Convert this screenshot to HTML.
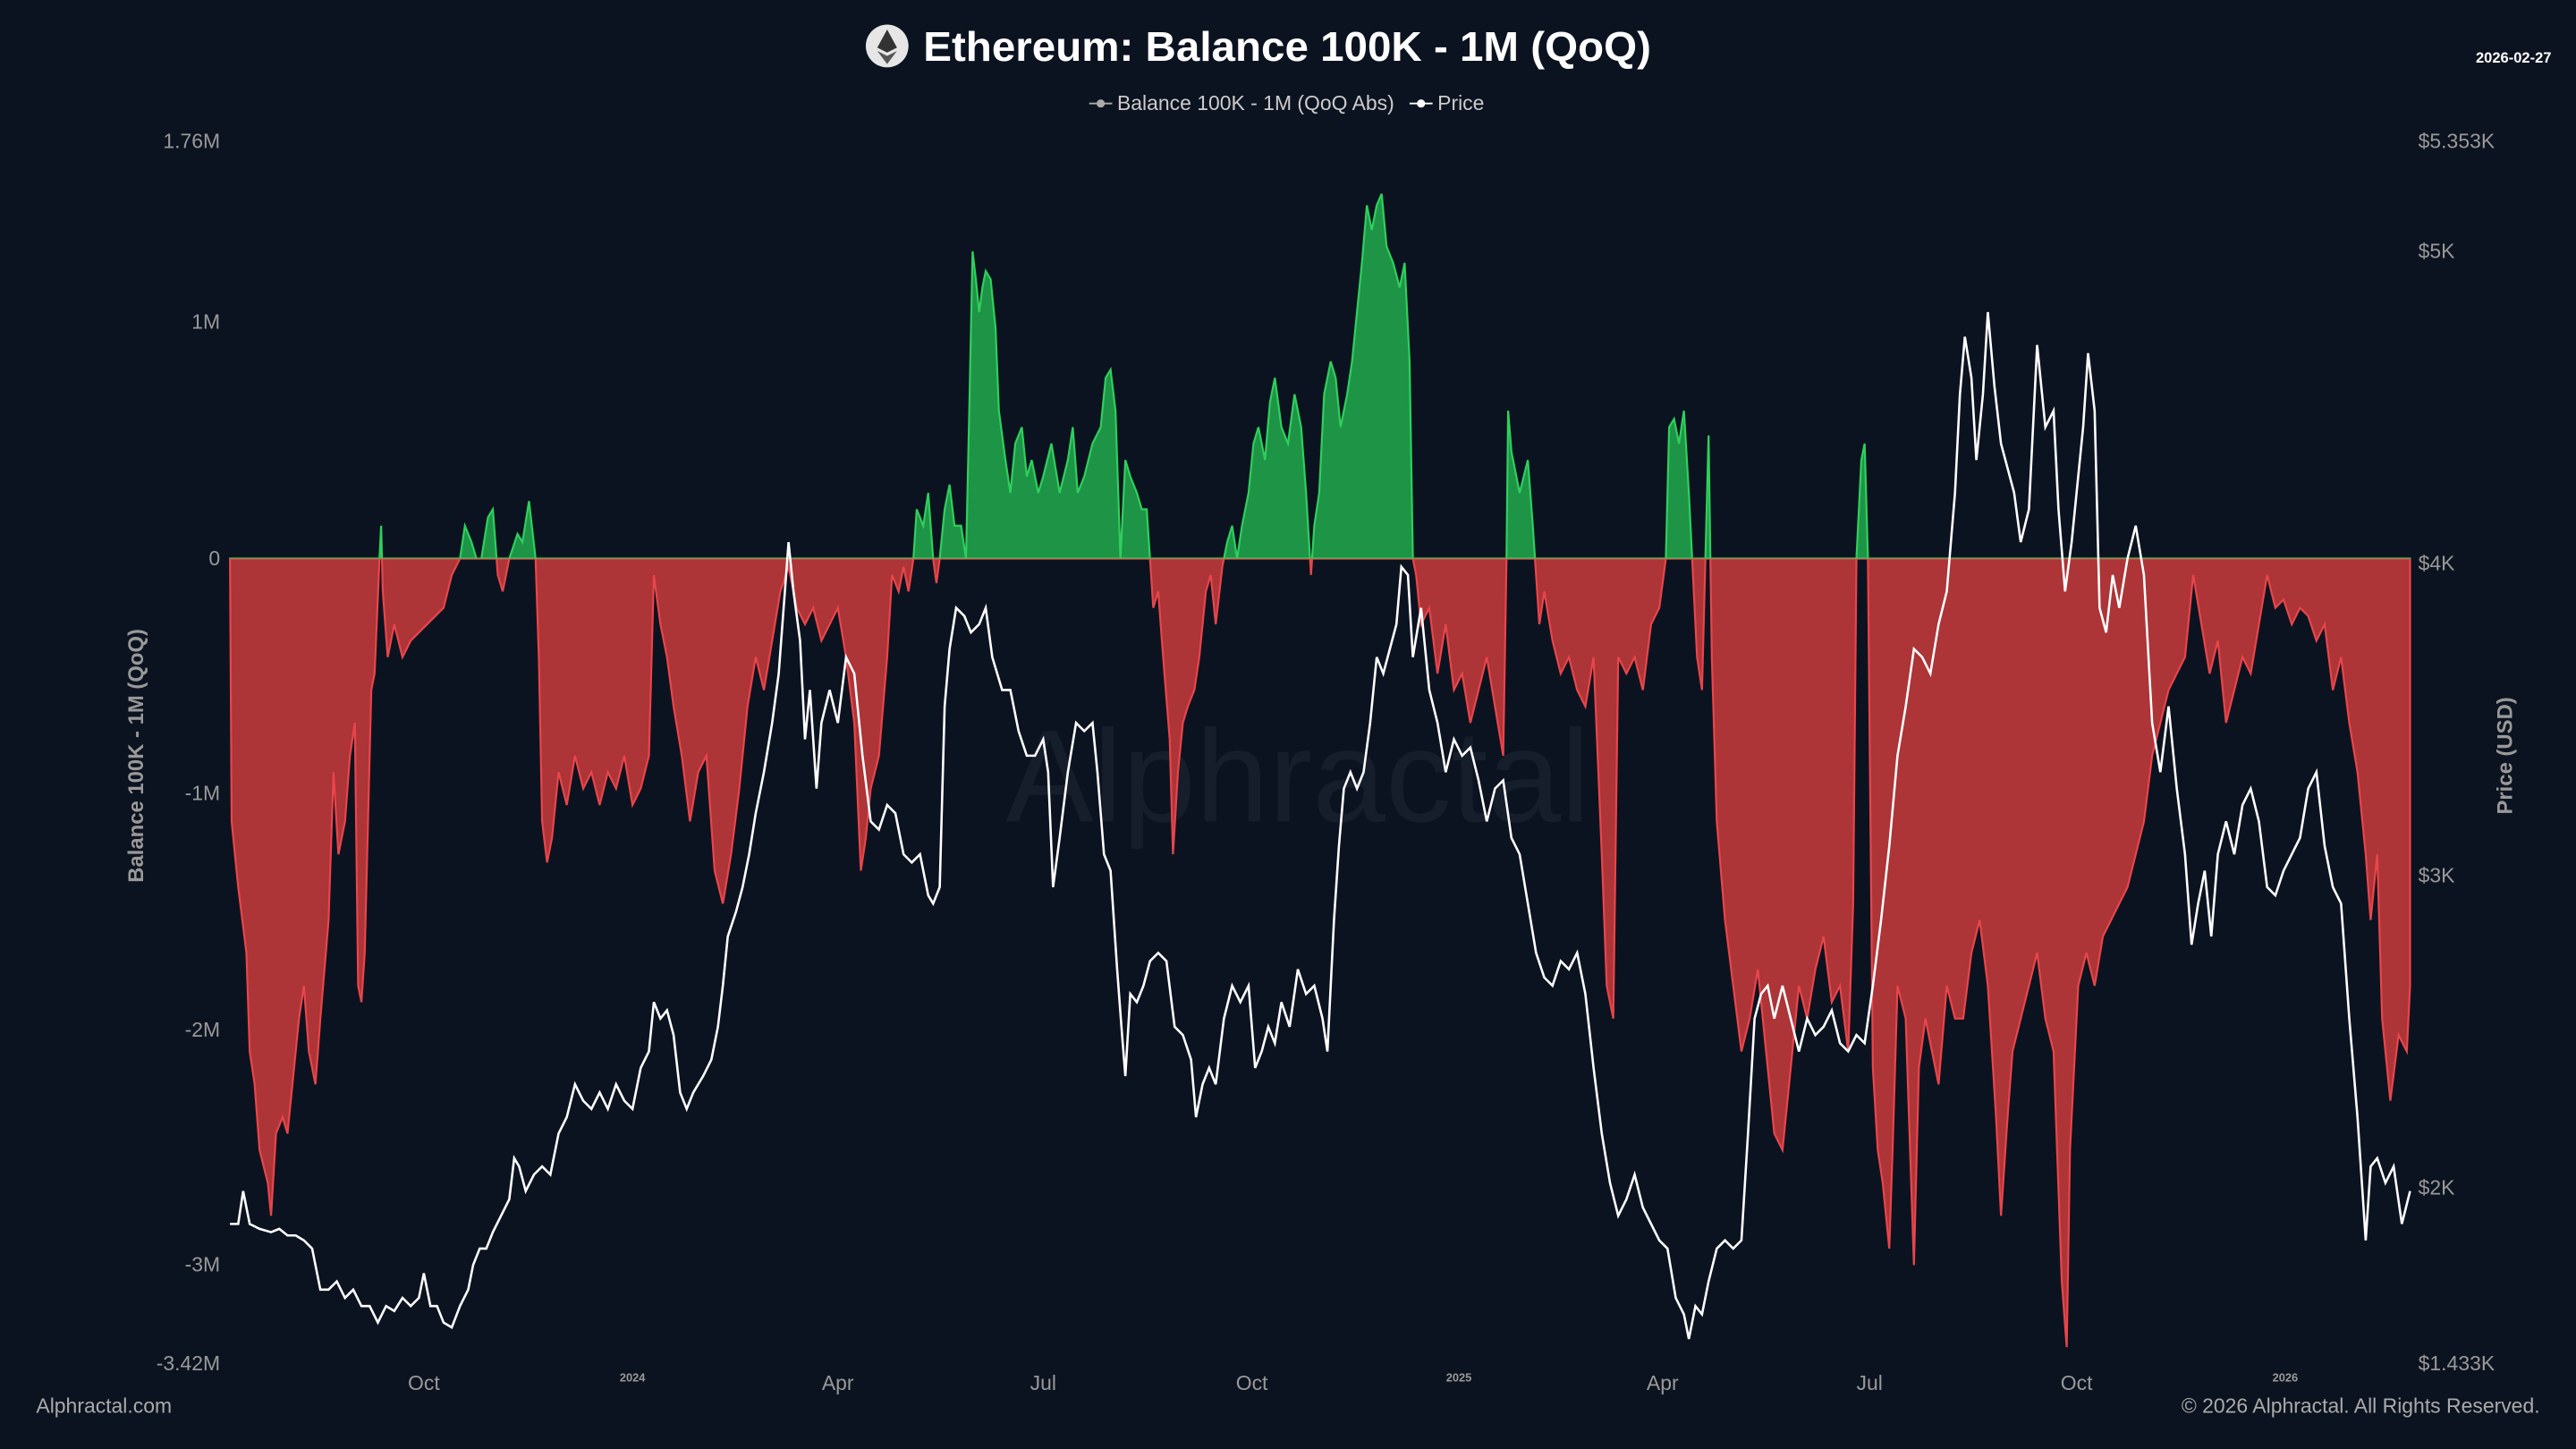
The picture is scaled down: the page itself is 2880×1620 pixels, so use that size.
<!DOCTYPE html>
<html><head><meta charset="utf-8"><style>
html,body{margin:0;padding:0;background:#0c1320;}
svg{display:block;}
text{font-family:"Liberation Sans",sans-serif;}
</style></head><body>
<svg width="2880" height="1620" viewBox="0 0 1568 882" xmlns="http://www.w3.org/2000/svg">
<rect width="1568" height="882" fill="#0c1320"/>
<defs>
<clipPath id="up"><rect x="0" y="0" width="1568" height="340"/></clipPath>
<clipPath id="dn"><rect x="0" y="340" width="1568" height="600"/></clipPath>
<path id="bal" d="M140,340 L141,500 145,540 150,580 152,640 155,660 158,700 163,720 165,740 168,690 172,680 175,690 178,660 182,620 185,600 188,640 192,660 195,620 200,560 203,470 206,520 210,500 213,460 216,440 218,600 220,610 222,580 226,420 228,410 231,340 232,320 233,360 236,400 240,380 245,400 250,390 255,385 260,380 265,375 270,370 275,350 280,340 283,320 287,330 290,340 293,340 297,315 300,310 303,350 306,360 310,340 315,325 318,330 322,305 326,340 328,400 330,500 333,525 336,510 340,470 345,490 350,460 355,480 360,470 365,490 370,470 375,480 380,460 385,490 390,480 395,460 398,350 402,380 406,400 410,430 415,460 420,500 425,470 430,460 435,530 440,550 445,520 450,480 455,430 460,400 465,420 470,390 475,360 480,345 485,370 490,380 495,370 500,390 505,380 510,370 515,400 520,440 524,530 527,510 530,480 535,460 540,400 543,350 547,360 550,345 553,360 556,340 558,310 562,320 565,300 568,340 570,355 572,340 575,310 578,295 581,320 585,320 588,340 590,250 592,153 594,170 596,190 598,175 600,165 603,170 606,200 608,250 612,280 615,300 618,270 622,260 625,290 628,280 632,300 635,290 640,270 645,300 650,280 653,260 656,300 660,290 665,270 670,260 673,230 676,225 679,250 682,340 685,280 688,290 692,300 695,310 698,310 700,340 702,370 705,360 708,400 712,450 714,520 717,470 720,440 723,430 727,420 730,400 734,360 737,350 740,380 744,345 747,330 750,320 753,340 756,320 760,300 763,270 766,260 770,280 773,245 776,230 780,260 784,270 788,240 792,260 795,300 798,350 800,320 803,300 806,240 810,220 813,230 816,260 820,240 823,220 826,190 829,160 832,125 835,140 838,125 841,118 844,150 848,160 852,175 855,160 858,220 860,340 862,350 865,380 870,370 875,410 880,380 885,420 890,410 895,440 900,420 905,400 910,430 915,460 917,340 918,250 920,275 925,300 930,280 933,320 935,350 937,380 940,360 945,390 950,410 955,400 960,420 965,430 970,400 975,520 978,600 982,620 985,400 990,410 995,400 1000,420 1005,380 1010,370 1014,340 1016,260 1019,255 1022,270 1025,250 1028,300 1030,340 1033,400 1036,420 1040,265 1042,400 1045,500 1050,560 1055,600 1060,640 1065,620 1070,590 1075,640 1080,690 1085,700 1090,650 1095,600 1100,620 1105,590 1110,570 1115,610 1120,600 1125,640 1128,550 1130,340 1133,280 1135,270 1137,340 1140,650 1143,700 1146,720 1150,760 1152,700 1155,600 1160,620 1165,770 1168,650 1172,620 1176,640 1180,660 1185,600 1190,620 1195,620 1200,580 1205,560 1210,600 1215,680 1218,740 1222,680 1225,640 1230,620 1235,600 1240,580 1245,620 1250,640 1255,780 1258,820 1260,700 1265,600 1270,580 1275,600 1280,570 1285,560 1290,550 1295,540 1300,520 1305,500 1310,460 1315,440 1320,420 1325,410 1330,400 1335,350 1340,380 1345,410 1350,390 1355,440 1360,420 1365,400 1370,410 1375,380 1380,350 1385,370 1390,365 1395,380 1400,370 1405,375 1410,390 1415,380 1420,420 1425,400 1430,440 1435,470 1440,520 1443,560 1447,520 1450,620 1455,670 1460,630 1465,640 1467,600 L1467,340 Z"/>
</defs>
<text x="790" y="500" font-size="80" fill="#161d2b" text-anchor="middle">Alphractal</text>
<g clip-path="url(#dn)"><use href="#bal" fill="#ad3437" stroke="#e8454a" stroke-width="1.2"/></g>
<g clip-path="url(#up)"><use href="#bal" fill="#1e9447" stroke="#2fcf5c" stroke-width="1.2"/></g>
<polyline fill="none" stroke="#ffffff" stroke-width="1.4" points="140,745 145,745 148,725 152,745 158,748 165,750 170,748 175,752 180,752 185,755 190,760 195,785 200,785 205,780 210,790 215,785 220,795 225,795 230,805 235,795 240,798 245,790 250,795 255,790 258,775 262,795 266,795 270,805 275,808 280,795 285,785 288,770 292,760 296,760 300,750 305,740 310,730 313,705 316,710 320,725 325,715 330,710 335,715 340,690 345,680 350,660 355,670 360,675 365,665 370,675 375,660 380,670 385,675 390,650 395,640 398,610 402,620 406,615 410,630 414,665 418,675 422,665 428,655 433,645 437,625 440,600 443,570 448,555 452,540 456,520 460,495 465,470 470,440 474,410 477,370 480,330 483,360 487,390 490,450 493,420 497,480 500,440 505,420 510,440 515,400 520,410 525,460 530,500 535,505 540,490 545,495 550,520 555,525 560,520 565,545 568,550 572,540 575,430 578,395 582,370 587,375 591,385 596,380 600,370 604,400 610,420 615,420 620,445 625,460 630,460 635,450 638,470 641,540 645,510 650,470 655,440 660,445 665,440 668,470 672,520 676,530 680,590 683,630 685,655 688,605 692,610 696,600 700,585 705,580 710,585 715,625 720,630 725,645 728,680 732,660 736,650 740,660 745,620 750,600 755,610 760,600 764,650 768,640 772,625 776,635 780,610 785,625 790,590 795,605 800,600 805,620 808,640 812,560 815,515 818,480 822,470 826,480 830,470 834,440 838,400 842,410 846,395 850,380 853,345 857,350 860,400 865,370 870,420 875,440 880,470 885,450 890,460 895,455 900,475 905,500 910,480 915,475 920,510 925,520 930,550 935,580 940,595 945,600 950,585 955,590 960,580 965,605 970,650 975,690 980,720 985,740 990,730 995,715 1000,735 1005,745 1010,755 1015,760 1020,790 1025,800 1028,815 1032,795 1036,800 1040,780 1045,760 1050,755 1055,760 1060,755 1064,690 1068,620 1072,605 1076,600 1080,620 1085,600 1090,620 1095,640 1100,620 1105,630 1110,625 1115,615 1120,635 1125,640 1130,630 1135,635 1140,600 1145,560 1150,515 1155,460 1160,430 1165,395 1170,400 1175,410 1180,380 1185,360 1190,300 1193,240 1196,205 1200,230 1203,280 1207,240 1210,190 1214,235 1218,270 1222,285 1226,300 1230,330 1235,310 1240,210 1245,260 1250,250 1253,310 1257,360 1261,330 1264,300 1268,260 1271,215 1275,250 1278,370 1282,385 1286,350 1290,370 1295,340 1300,320 1305,350 1310,440 1315,470 1320,430 1325,480 1330,520 1334,575 1338,550 1342,530 1346,570 1350,520 1355,500 1360,520 1365,490 1370,480 1375,500 1380,540 1385,545 1390,530 1395,520 1400,510 1405,480 1410,470 1415,515 1420,540 1425,550 1430,620 1435,680 1440,755 1443,710 1447,705 1452,720 1457,710 1462,745 1467,725"/>
<circle cx="540" cy="28" r="13" fill="#e6e6e6"/>
<polygon points="540,18 546,29 540,32 534,29" fill="#333"/>
<polygon points="540,34 546,31 540,39 534,31" fill="#555"/>
<text x="562" y="37" font-size="25" font-weight="bold" fill="#fff" textLength="443" lengthAdjust="spacingAndGlyphs">Ethereum: Balance 100K - 1M (QoQ)</text>
<text x="1553" y="38" font-size="9" font-weight="bold" fill="#fff" text-anchor="end">2026-02-27</text>
<line x1="663" y1="63" x2="677" y2="63" stroke="#aaa"/><circle cx="670" cy="63" r="2.5" fill="#aaa"/>
<text x="680" y="67" font-size="12.5" fill="#ccc">Balance 100K - 1M (QoQ Abs)</text>
<line x1="858" y1="63" x2="872" y2="63" stroke="#fff"/><circle cx="865" cy="63" r="2.5" fill="#fff"/>
<text x="875" y="67" font-size="12.5" fill="#ccc">Price</text>
<g font-size="12.5" fill="#999" text-anchor="end">
<text x="134" y="90">1.76M</text><text x="134" y="200">1M</text><text x="134" y="344">0</text>
<text x="134" y="487">-1M</text><text x="134" y="631">-2M</text><text x="134" y="774">-3M</text><text x="134" y="834">-3.42M</text>
</g>
<text transform="translate(87,460) rotate(-90)" font-size="13" font-weight="bold" fill="#999" text-anchor="middle">Balance 100K - 1M (QoQ)</text>
<g font-size="12.5" fill="#999">
<text x="1472" y="90">$5.353K</text><text x="1472" y="157">$5K</text><text x="1472" y="347">$4K</text>
<text x="1472" y="537">$3K</text><text x="1472" y="727">$2K</text><text x="1472" y="834">$1.433K</text>
</g>
<text transform="translate(1529,460) rotate(-90)" font-size="13" font-weight="bold" fill="#999" text-anchor="middle">Price (USD)</text>
<g font-size="12.5" fill="#999" text-anchor="middle">
<text x="258" y="846">Oct</text><text x="510" y="846">Apr</text><text x="635" y="846">Jul</text><text x="762" y="846">Oct</text>
<text x="1012" y="846">Apr</text><text x="1138" y="846">Jul</text><text x="1264" y="846">Oct</text>
</g>
<g font-size="7" font-weight="bold" fill="#999" text-anchor="middle">
<text x="385" y="841">2024</text><text x="888" y="841">2025</text><text x="1391" y="841">2026</text>
</g>
<text x="22" y="860" font-size="12.5" fill="#aaa">Alphractal.com</text>
<text x="1546" y="860" font-size="12.5" fill="#aaa" text-anchor="end">© 2026 Alphractal. All Rights Reserved.</text>
</svg>
</body></html>
